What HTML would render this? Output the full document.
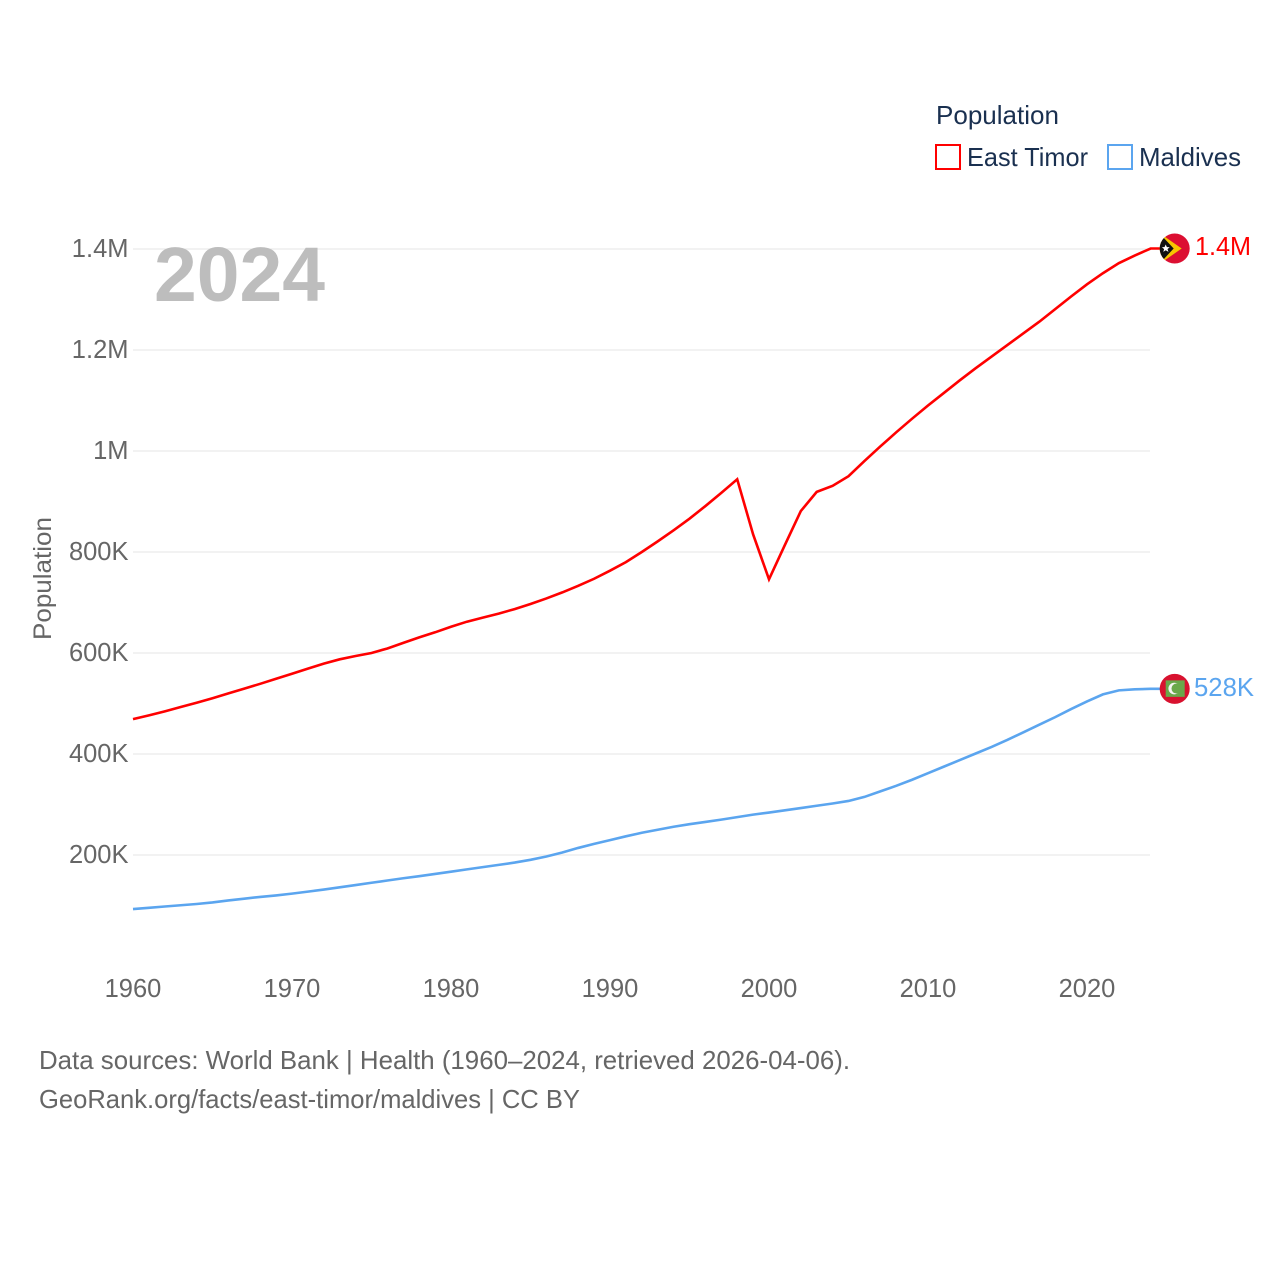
<!DOCTYPE html>
<html lang="en">
<head>
<meta charset="utf-8">
<title>East Timor and Maldives population</title>
<style>
html,body{margin:0;padding:0;background:#fff}
svg{display:block}
text{font-family:"Liberation Sans",sans-serif}
</style>
</head>
<body>
<svg id="chart" xmlns="http://www.w3.org/2000/svg" width="1280" height="1280" viewBox="0 0 1280 1280">
  <rect x="0" y="0" width="1280" height="1280" fill="#fff"/>
  <g id="grid"></g>
  <text x="154" y="301" font-size="77" font-weight="700" fill="#bdbdbd" textLength="171" lengthAdjust="spacingAndGlyphs">2024</text>
  <g id="y-ticks"></g>
  <g id="x-ticks"></g>
  <text transform="translate(51,640) rotate(-90)" font-size="25" fill="#666" textLength="123" lengthAdjust="spacingAndGlyphs">Population</text>
  <g id="series"></g>

  <g>
    <text x="936" y="124" font-size="26" fill="#1a3050" textLength="123" lengthAdjust="spacingAndGlyphs">Population</text>
    <g>
      <rect x="936" y="145" width="24" height="24" fill="none" stroke="#ff0000" stroke-width="2"/>
      <text x="967" y="166" font-size="26" fill="#1a3050" textLength="121" lengthAdjust="spacingAndGlyphs">East Timor</text>
    </g>
    <g>
      <rect x="1108" y="145" width="24" height="24" fill="none" stroke="#5ba5ef" stroke-width="2"/>
      <text x="1139" y="166" font-size="26" fill="#1a3050" textLength="102" lengthAdjust="spacingAndGlyphs">Maldives</text>
    </g>
  </g>

  <text x="39" y="1069" font-size="26" fill="#666" textLength="811" lengthAdjust="spacingAndGlyphs">Data sources: World Bank | Health (1960–2024, retrieved 2026-04-06).</text>
  <text x="39" y="1108" font-size="26" fill="#666" textLength="541" lengthAdjust="spacingAndGlyphs">GeoRank.org/facts/east-timor/maldives | CC BY</text>
</svg>
<script>
const years = [1960,1961,1962,1963,1964,1965,1966,1967,1968,1969,1970,1971,1972,1973,1974,1975,1976,1977,1978,1979,1980,1981,1982,1983,1984,1985,1986,1987,1988,1989,1990,1991,1992,1993,1994,1995,1996,1997,1998,1999,2000,2001,2002,2003,2004,2005,2006,2007,2008,2009,2010,2011,2012,2013,2014,2015,2016,2017,2018,2019,2020,2021,2022,2023,2024];
const eastTimorThousands = [469,476.5,484.5,493,501.5,510.5,520,529.5,539,549,559,569,579,587.5,594,600,609,620,631,641,652,662,670,678,687,697,708,720,733,747,763,780,800,821,843,866,891,917,944,835,746,814,881,919,931,950,980,1009,1037,1064,1090,1115,1140,1164,1187,1210,1233,1256,1281,1306,1330,1352,1372,1387,1401];
const maldivesThousands = [93,95.5,98,100.5,103,106,110,113.5,117,120,123.5,127.5,131.5,136,140.5,145,149.5,154,158,162.5,167,171.5,176,180.5,185,190.5,197,205,214,222,229.5,237,244,250,256,261,265.5,270,275,280,284,288.5,293,297.5,302,307,315,326,337,349,362,375,388,401,414,428,443,458,473,489,504,518,526,528,529];
const xTickYears = [1960,1970,1980,1990,2000,2010,2020];
const yTickThousands = [200,400,600,800,1000,1200,1400];
const yTickLabels = ['200K','400K','600K','800K','1M','1.2M','1.4M'];
const endLabels = ['1.4M','528K'];

const NS = 'http://www.w3.org/2000/svg';
const xScale = function (year) { return 133 + (year - 1960) * 15.9; };
const yScale = function (k) { return 956 - k * 0.505; };
const RED = '#ff0000';
const BLUE = '#5ba5ef';
const MARKER_X = 1174.7;

function make(tag, attrs, parent) {
  const el = document.createElementNS(NS, tag);
  Object.keys(attrs).forEach(function (k) { el.setAttribute(k, attrs[k]); });
  parent.appendChild(el);
  return el;
}

const gridGroup = document.getElementById('grid');
const yTickGroup = document.getElementById('y-ticks');
yTickThousands.forEach(function (k, i) {
  const line = make('line', { x1: 133, x2: 1150, y1: yScale(k), y2: yScale(k), stroke: '#eeeeee', 'stroke-width': 1.5 }, gridGroup);
  
  
  const label = make('text', { x: 128.5, y: yScale(k) + 8, 'text-anchor': 'end', 'font-size': 25.5, fill: '#666' }, yTickGroup);
  label.textContent = yTickLabels[i];
  
  
});

const xTickGroup = document.getElementById('x-ticks');
xTickYears.forEach(function (year) {
  const label = make('text', { x: xScale(year), y: 997, 'text-anchor': 'middle', 'font-size': 25.5, fill: '#666' }, xTickGroup);
  label.textContent = String(year);
  
  
});

const seriesGroup = document.getElementById('series');
function drawSeries(values, color) {
  let d = '';
  values.forEach(function (v, i) {
    d += (i ? 'L' : 'M') + xScale(years[i]).toFixed(2) + ' ' + yScale(v).toFixed(2);
  });
  d += 'L' + MARKER_X + ' ' + yScale(values[values.length - 1]).toFixed(2);
  return make('path', { d: d, fill: 'none', stroke: color, 'stroke-width': 2.6, 'stroke-linejoin': 'miter', 'stroke-miterlimit': 10 }, seriesGroup);
}
const lineEastTimor = drawSeries(eastTimorThousands, RED);


const lineMaldives = drawSeries(maldivesThousands, BLUE);



/* East Timor end marker */
const etY = yScale(eastTimorThousands[eastTimorThousands.length - 1]);
const etFlag = make('g', { transform: 'translate(' + MARKER_X + ',' + etY + ')' }, seriesGroup);


const etClip = make('clipPath', { id: 'et-clip' }, etFlag);
make('circle', { r: 15 }, etClip);
const etInner = make('g', { 'clip-path': 'url(#et-clip)' }, etFlag);
make('rect', { x: -16, y: -16, width: 32, height: 32, fill: '#dc0f32' }, etInner);
make('polygon', { points: '-16,-16 7,0 -16,16', fill: '#f7c600' }, etInner);
make('polygon', { points: '-16,-16 -1,0 -16,16', fill: '#111' }, etInner);
make('polygon', { points: '-9,-4 -7.8,-1.4 -5,-1.4 -7.2,0.6 -6.2,3.4 -9,1.8 -11.4,3.4 -10.6,0.6 -12.8,-1.4 -10.2,-1.4', fill: '#fff' }, etInner);
const etLabel = make('text', { x: 1195, y: etY + 6.5, 'font-size': 25.5, fill: RED, textLength: 56, lengthAdjust: 'spacingAndGlyphs' }, seriesGroup);
etLabel.textContent = endLabels[0];



/* Maldives end marker */
const mvY = yScale(maldivesThousands[maldivesThousands.length - 1]);
const mvFlag = make('g', { transform: 'translate(' + MARKER_X + ',' + mvY + ')' }, seriesGroup);


make('circle', { r: 15, fill: '#d8122f' }, mvFlag);
make('rect', { x: -9, y: -8.5, width: 19, height: 16.5, fill: '#6aa84a' }, mvFlag);
make('circle', { cx: -0.5, cy: -0.3, r: 5.8, fill: '#f4f4f0' }, mvFlag);
make('circle', { cx: 1.8, cy: -0.3, r: 5, fill: '#6aa84a' }, mvFlag);
const mvLabel = make('text', { x: 1194, y: mvY + 7, 'font-size': 25.5, fill: BLUE, textLength: 60, lengthAdjust: 'spacingAndGlyphs' }, seriesGroup);
mvLabel.textContent = endLabels[1];


</script>
</body>
</html>
